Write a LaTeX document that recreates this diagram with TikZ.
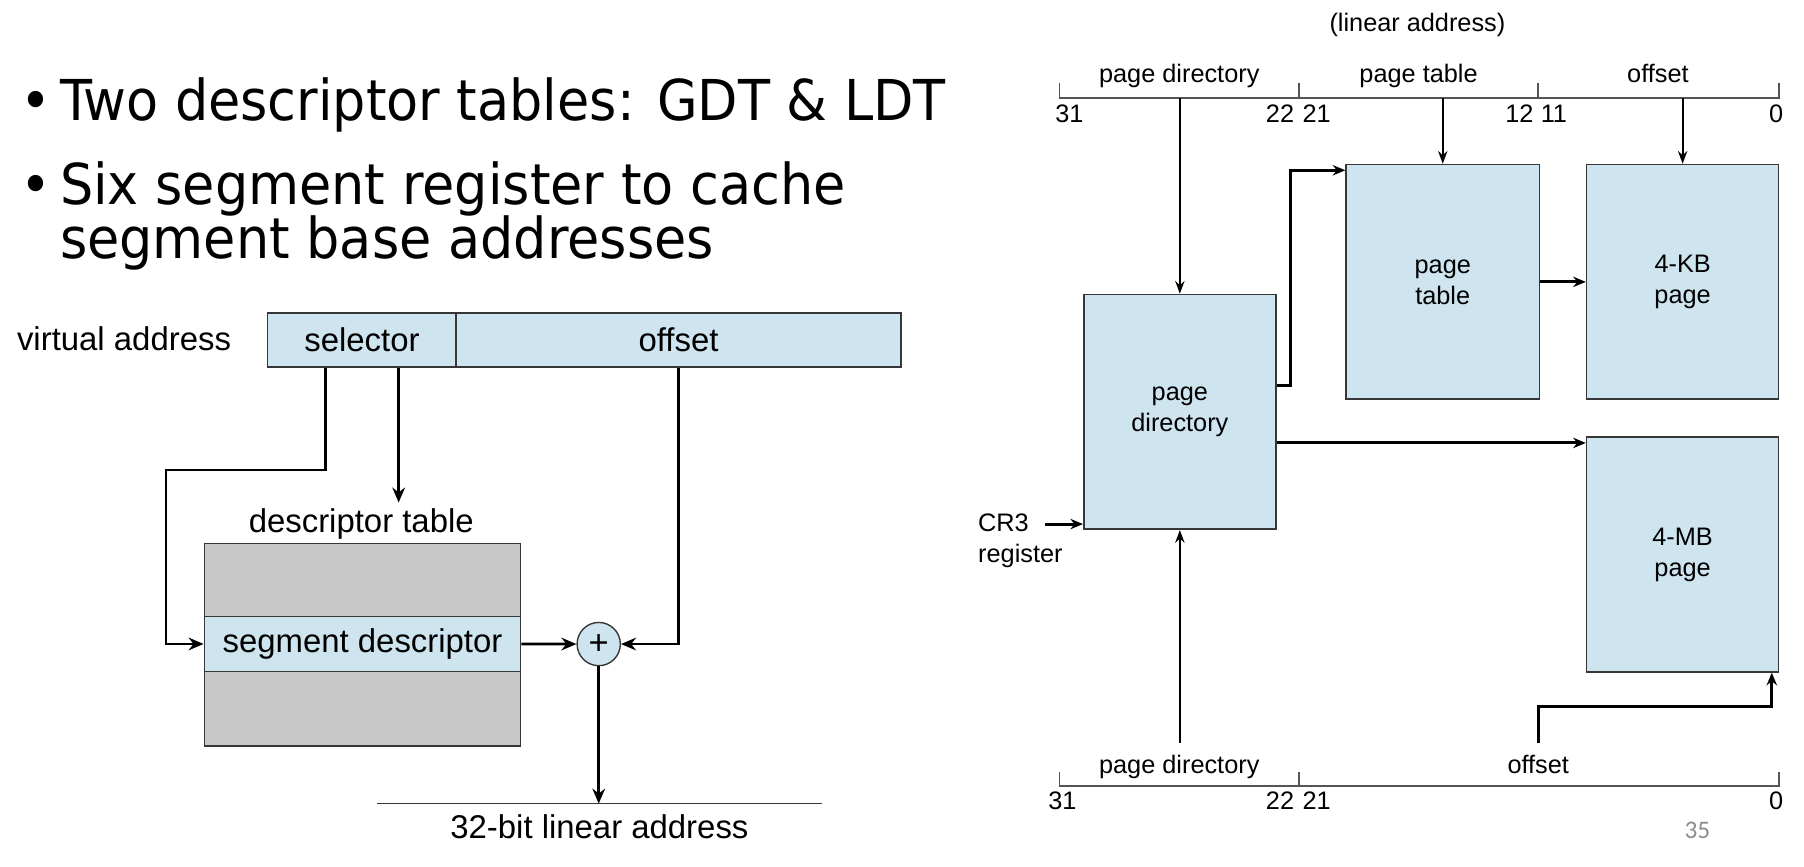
\documentclass[tikz,border=0pt]{standalone}
\usepackage{fontspec}
\setmainfont{Liberation Sans}
\newfontfamily\comicf[FakeStretch=0.93]{DejaVu Sans}
\newfontfamily\calib{Carlito}
\usetikzlibrary{arrows.meta}
\definecolor{lblue}{RGB}{206,228,238}
\definecolor{tgray}{RGB}{200,200,200}
\definecolor{edge}{RGB}{55,55,55}
\definecolor{barc}{RGB}{85,85,85}
\definecolor{pgnum}{RGB}{140,140,140}
\begin{document}
\begin{tikzpicture}[x=1pt,y=-1pt,
  bul/.style={font=\comicf\fontsize{49}{56}\selectfont, inner sep=0, anchor=base west},
  lf/.style={font=\fontsize{28.6}{34}\selectfont},
  rf/.style={font=\fontsize{22}{27}\selectfont},
  lbox/.style={lf, draw=edge, line width=1.3pt, fill=lblue, inner sep=0},
  gbox/.style={draw=edge, line width=1.3pt, fill=tgray, inner sep=0},
  rbox/.style={rf, draw=edge, line width=1.3pt, fill=lblue, inner sep=0, align=center, minimum width=167, minimum height=204},
  lbl/.style={inner sep=0},
  conn/.style={line width=2.3pt, -{Stealth[length=13pt,width=11pt]}},
  rthick/.style={line width=2.6pt, -{Stealth[length=11pt,width=9pt]}},
  rthin/.style={line width=1.9pt, -{Stealth[length=11pt,width=8pt]}},
  bar/.style={draw=barc, line width=1.5pt}]
\useasboundingbox (0,0) rectangle (1568,753);

% ---------- bullets ----------
\node[bul] (d1) at (18,105) {•};
\node[bul] (b1) at (52,105) {Two descriptor tables: GDT \& LDT};
\node[bul] (d2) at (18,177.5) {•};
\node[bul] (b2) at (52,177.5) {Six segment register to cache};
\node[bul] (b3) at (52,225) {segment base addresses};

% ---------- segmentation diagram ----------
\node[lf, lbl, anchor=base east] (va) at (201,305) {virtual address};
\node[lbox, minimum width=164, minimum height=47] (sel) at (314.6,295.5) {selector};
\node[lbox, minimum width=387, minimum height=47] (off) at (589.8,295.5) {offset};
\node[lf, lbl, anchor=base] (dtl) at (314,463) {descriptor table};
\node[gbox, minimum width=275, minimum height=176] (dt) at (315.1,560.5) {};
\node[lbox, minimum width=275, minimum height=47.7] (sd) at (315.1,559.7) {segment descriptor};
\node[circle, draw=edge, line width=1.2pt, fill=lblue, minimum size=37.6, inner sep=0,
      font=\fontsize{30}{30}\selectfont] (plus) at (520.4,559.8) {+};
\coordinate (linL) at (327.5,698.5);
\coordinate (linR) at (714.3,698.5);
\draw[line width=1.2pt, edge] (linL) -- (linR);
\node[lf, lbl, anchor=base] (lt) at (521,729) {32-bit linear address};

\coordinate (lbend) at (144.2,408.6);
\coordinate (dtin) at (346.5,436.8);
\draw[conn] ([xshift=-31.7pt]sel.south) |- (lbend) |- (sd.west);
\draw[conn] (dtin |- sel.south) -- (dtin);
\draw[conn] (off.south) |- (plus.east);
\draw[conn] (sd.east) -- (plus.west);
\draw[conn] (plus.south) -- (plus.south |- linL);

% ---------- paging diagram ----------
\node[rf, lbl, anchor=base] (la) at (1232,27) {(linear address)};
\draw[bar] (921,72) -- (921,85) -- (1546,85) -- (1546,72);
\draw[bar] (1129,85) -- (1129,72);
\draw[bar] (1337,85) -- (1337,72);
\coordinate (tbL) at (921,85);
\node[rf, lbl, anchor=base] (tpd) at (1025,72) {page directory};
\node[rf, lbl, anchor=base] (tpt) at (1233,72) {page table};
\node[rf, lbl, anchor=base] (tof) at (1441,72) {offset};
\node[rf, lbl, anchor=base west] (n31) at (917,106.5) {31};
\node[rf, lbl, anchor=base east] (n22) at (1125,106.5) {22};
\node[rf, lbl, anchor=base west] (n21) at (1132,106.5) {21};
\node[rf, lbl, anchor=base east] (n12) at (1333,106.5) {12};
\node[rf, lbl, anchor=base west] (n11) at (1339,106.5) {11};
\node[rf, lbl, anchor=base east] (n0) at (1550,106.5) {0};

\node[rbox] (pd) at (1025.5,358) {page\\directory};
\node[rbox, minimum width=168] (pt) at (1254,245) {page\\table};
\node[rbox] (kb) at (1462.5,245) {4-KB\\page};
\node[rbox] (mb) at (1462.5,482) {4-MB\\page};

\draw[rthin] (pd.north |- tbL) -- (pd.north);
\draw[rthin] (pt.north |- tbL) -- (pt.north);
\draw[rthin] (kb.north |- tbL) -- (kb.north);
\draw[rthick] ([yshift=23pt]pd.east) -- ++(12,0) |- ([yshift=97pt]pt.west);
\draw[rthick] (pt.east) -- (kb.west);
\coordinate (mbin) at ([yshift=97pt]mb.west);
\draw[rthick] (pd.east |- mbin) -- (mbin);

\node[rf, lbl, align=left, anchor=north west] (cr3) at (850,446) {CR3\\register};
\coordinate (cr3s) at (908,455.5);
\draw[rthick] (cr3s) -- (cr3s -| pd.west);

\draw[bar] (921,671) -- (921,683) -- (1546,683) -- (1546,671);
\draw[bar] (1129,683) -- (1129,671);
\node[rf, lbl, anchor=base] (bpd) at (1025,672) {page directory};
\node[rf, lbl, anchor=base] (bof) at (1337,672) {offset};
\node[rf, lbl, anchor=base west] (m31) at (911,704) {31};
\node[rf, lbl, anchor=base east] (m22) at (1125,704) {22};
\node[rf, lbl, anchor=base west] (m21) at (1132,704) {21};
\node[rf, lbl, anchor=base east] (m0) at (1550,704) {0};

\coordinate (pdup) at (1025.5,646);
\draw[rthin] (pdup) -- (pd.south);
\coordinate (offup) at (1337,646);
\coordinate (mbhook) at (1540,614);
\draw[rthick] (offup) |- (mbhook) -- (mbhook |- mb.south);

\node[lbl, anchor=base west, text=pgnum, font=\calib\fontsize{22}{26}\selectfont] (pg) at (1464,728.5) {35};
\end{tikzpicture}
\end{document}
